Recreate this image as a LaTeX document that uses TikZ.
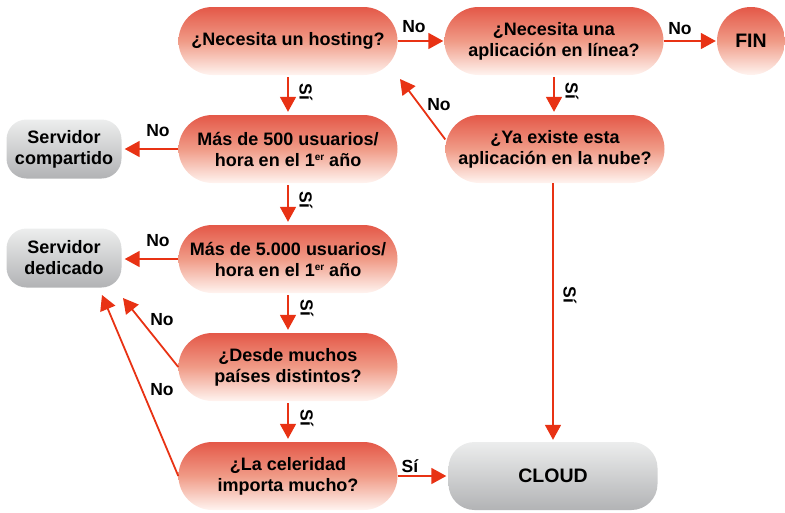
\documentclass[tikz,border=0pt]{standalone}
\usepackage{fontspec}
\setmainfont{Liberation Sans}
\usetikzlibrary{arrows.meta}
\definecolor{arrred}{RGB}{232,50,20}
\definecolor{rtop}{RGB}{228,88,72}
\definecolor{rmid}{RGB}{240,155,135}
\definecolor{rbot}{RGB}{255,244,240}
\definecolor{gtop}{RGB}{236,237,237}
\definecolor{gbot}{RGB}{178,179,181}
\newcommand\mysup[1]{\raisebox{5.5pt}{\fontsize{10}{10}\selectfont #1}}
\begin{document}
\begin{tikzpicture}[x=1pt,y=-1pt,
  txt/.style={align=center, font=\bfseries\fontsize{18}{21}\selectfont, inner sep=0pt},
  qbox/.style={txt, rectangle, rounded corners=34pt, minimum width=219pt, minimum height=68pt,
     top color=rtop, bottom color=rbot, middle color=rmid},
  fincirc/.style={txt, circle, minimum size=68pt, top color=rtop, bottom color=rbot, middle color=rmid,
     font=\bfseries\fontsize{19.5}{21}\selectfont},
  gbox/.style={txt, rectangle, rounded corners=20pt, minimum width=115pt, minimum height=59pt,
     top color=gtop, bottom color=gbot},
  cloudbox/.style={txt, rectangle, rounded corners=26pt, minimum width=209pt, minimum height=68pt,
     top color=gtop, bottom color=gbot, font=\bfseries\fontsize{19.5}{21}\selectfont},
  arr/.style={draw=arrred, line width=1.8pt, -{Triangle[width=16pt,length=15pt]}},
  lbl/.style={font=\bfseries\fontsize{17.5}{20}\selectfont, inner sep=0pt},
  vlbl/.style={lbl, rotate=-90}
]
\useasboundingbox (0,0) rectangle (785,512);

% nodes
\node[qbox] (hosting) at (288,41) {¿Necesita un hosting?};
\node[qbox] (app) at (554,41) {¿Necesita una\\aplicación en línea?};
\node[fincirc] (fin) at (751,41) {FIN};
\node[qbox] (u500) at (288,149) {Más de 500 usuarios/\\hora en el 1\mysup{er} año};
\node[qbox] (ya) at (555,149) {¿Ya existe esta\\aplicación en la nube?};
\node[gbox] (comp) at (64,149) {Servidor\\compartido};
\node[qbox] (u5000) at (288,259) {Más de 5.000 usuarios/\\hora en el 1\mysup{er} año};
\node[gbox] (ded) at (64,258) {Servidor\\dedicado};
\node[qbox] (desde) at (288,367) {¿Desde muchos\\países distintos?};
\node[qbox] (cel) at (288,476) {¿La celeridad\\importa mucho?};
\node[cloudbox] (cloud) at (553,476) {CLOUD};

\coordinate (hostcorner) at (400,79);
\coordinate (dedA) at (123,298);
\coordinate (dedB) at (102,295);

% connectors
\draw[arr, shorten >=1pt] (hosting) -- (app);
\draw[arr, shorten >=1pt] (app) -- (fin);
\draw[arr, shorten <=2pt, shorten >=3pt] (hosting.south) -- (u500.north);
\draw[arr, shorten <=2pt, shorten >=3pt] (app.south) -- (ya.north -| app.south);
\draw[arr] (ya.175) -- (hostcorner);
\draw[arr, shorten >=3pt] (u500.west) -- (comp.east |- u500.west);
\draw[arr, shorten <=2pt, shorten >=3pt] (u500.south) -- (u5000.north);
\draw[arr, shorten >=3pt] (u5000.west) -- (ded.east |- u5000.west);
\draw[arr, shorten <=2pt, shorten >=3pt] (u5000.south) -- (desde.north);
\draw[arr] (desde.west) -- (dedA);
\draw[arr, shorten <=2pt, shorten >=3pt] (desde.south) -- (cel.north);
\draw[arr] (cel.west) -- (dedB);
\draw[arr, shorten >=2pt] (cel.east) -- (cloud.west);
\draw[arr, shorten >=2pt] (ya.south -| cloud.north) -- (cloud.north);

% labels
\node[lbl] (l1) at (414,27) {No};
\node[lbl] (l2) at (680,29) {No};
\node[vlbl] (l3) at (306,92) {Sí};
\node[vlbl] (l4) at (572,91) {Sí};
\node[lbl] (l5) at (439,105) {No};
\node[lbl] (l6) at (158,131) {No};
\node[vlbl] (l7) at (306,200) {Sí};
\node[lbl] (l8) at (158,241) {No};
\node[vlbl] (l9) at (307,308) {Sí};
\node[lbl] (l10) at (162,320) {No};
\node[vlbl] (l11) at (307,418) {Sí};
\node[lbl] (l12) at (162,390) {No};
\node[lbl] (l13) at (410,466) {Sí};
\node[vlbl] (l14) at (570,295) {Sí};
\end{tikzpicture}
\end{document}
